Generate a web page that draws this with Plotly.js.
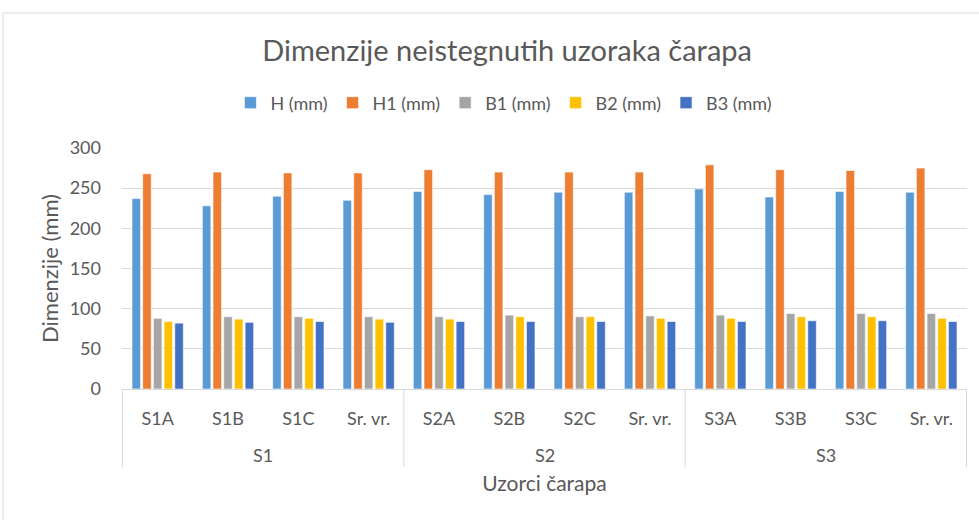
<!DOCTYPE html>
<html>
<head>
<meta charset="utf-8">
<script src="https://cdn.plot.ly/plotly-3.0.1.min.js"></script>
<style>html,body{margin:0;padding:0;background:#fff;}#chart{width:979px;height:520px;}</style>
</head>
<body>
<div id="chart"></div>
<script>
const groups = ["S1","S1","S1","S1","S2","S2","S2","S2","S3","S3","S3","S3"];
const samples = ["S1A","S1B","S1C","Sr. vr.","S2A","S2B","S2C","Sr. vr.","S3A","S3B","S3C","Sr. vr."];
const H  = [237, 228, 240, 235, 246, 242, 245, 245, 249, 239, 246, 245];
const H1 = [268, 270, 269, 269, 273, 270, 270, 270, 279, 273, 272, 275];
const B1 = [88, 90, 90, 90, 90, 92, 90, 91, 92, 94, 94, 94];
const B2 = [84, 87, 88, 87, 87, 90, 90, 88, 88, 90, 90, 88];
const B3 = [82, 83, 84, 83, 84, 84, 84, 84, 84, 85, 85, 84];
const seriesNames = ["H (mm)","H1 (mm)","B1 (mm)","B2 (mm)","B3 (mm)"];
const seriesColors = ["#5B9BD5","#ED7D31","#A5A5A5","#FFC000","#4472C4"];
const seriesValues = [H, H1, B1, B2, B3];

const keys = samples.map((s, i) => groups[i] + " | " + s);
const font = "Lato, 'Open Sans', sans-serif";
const grey = "#595959";
const lineGrey = "#d9d9d9";

const traces = seriesValues.map((v, i) => ({
  type: "bar",
  name: seriesNames[i],
  x: keys,
  y: v,
  marker: {color: seriesColors[i], line: {color: "#ffffff", width: 0.6}},
  hoverinfo: "skip"
}));

// group dividers and labels derived from the groups array
const shapes = [];
const annotations = [];
let start = 0;
for (let i = 1; i <= groups.length; i++) {
  if (i === groups.length || groups[i] !== groups[start]) {
    annotations.push({xref: "x", yref: "paper", x: (start + i - 1) / 2, y: -0.274, yanchor: "middle", xanchor: "center",
      text: groups[start], showarrow: false, font: {family: font, size: 18, color: grey}});
    start = i;
  }
}
const bounds = [-0.5];
groups.forEach((g, i) => { if (i > 0 && g !== groups[i - 1]) bounds.push(i - 0.5); });
bounds.push(groups.length - 0.5);
bounds.forEach(b => shapes.push({type: "line", xref: "x", yref: "paper", x0: b, x1: b, y0: 0, y1: -0.324,
  line: {color: lineGrey, width: 1}}));
// chart frame
shapes.push({type: "line", xref: "paper", yref: "paper", x0: -0.1408, x1: 1.05, y0: 1.560, y1: 1.560, line: {color: lineGrey, width: 1}});
shapes.push({type: "line", xref: "paper", yref: "paper", x0: -0.1408, x1: -0.1408, y0: 1.560, y1: -0.6, line: {color: lineGrey, width: 1}});

const layout = {
  width: 979, height: 520,
  margin: {l: 122, r: 12, t: 148, b: 131},
  paper_bgcolor: "#ffffff", plot_bgcolor: "#ffffff",
  font: {family: font, color: grey, size: 18},
  title: {text: "Dimenzije neistegnutih uzoraka čarapa", x: 0.518, xanchor: "center", y: 0.902, yanchor: "middle",
          font: {family: font, size: 29, color: grey}},
  barmode: "group", bargap: 0.24, bargroupgap: 0.2,
  showlegend: true,
  legend: {orientation: "h", x: 0.452, xanchor: "center", y: 1.187, yanchor: "middle",
           font: {family: font, size: 18, color: grey}, itemwidth: 30, traceorder: "normal"},
  xaxis: {type: "category", categoryorder: "array", categoryarray: keys, tickvals: keys, ticktext: samples,
          showgrid: false, showline: true, linecolor: lineGrey, linewidth: 1, ticks: "", ticklabelstandoff: 13,
          tickfont: {family: font, size: 18, color: grey},
          title: {text: "Uzorci čarapa", font: {family: font, size: 21, color: grey}, standoff: 48}},
  yaxis: {range: [0, 300], dtick: 50, showgrid: true, gridcolor: lineGrey, gridwidth: 1, zeroline: false,
          showline: false, ticks: "", ticklabelstandoff: 20,
          tickfont: {family: font, size: 18, color: grey},
          title: {text: "Dimenzije (mm)", font: {family: font, size: 22, color: grey}, standoff: 4}},
  shapes: shapes,
  annotations: annotations
};
Plotly.newPlot("chart", traces, layout, {displayModeBar: false, staticPlot: true});
</script>
</body>
</html>
